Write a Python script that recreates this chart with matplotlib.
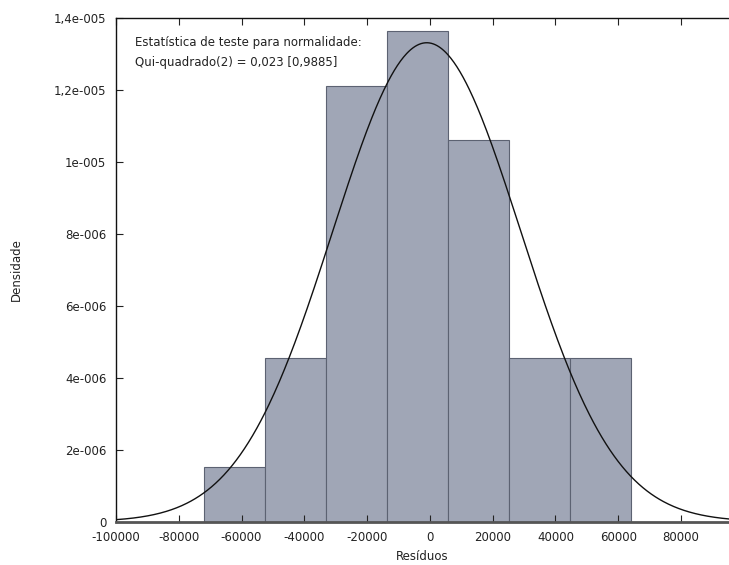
import numpy as np
import matplotlib
matplotlib.use("Agg")
import matplotlib.pyplot as plt

# histogram of residuals (density scale)
bin_start = -71965
bin_width = 19420
densities = [1.53e-6, 4.54e-6, 12.12e-6, 13.65e-6, 10.61e-6, 4.54e-6, 4.54e-6]

# fitted normal curve
mean_res = -1000
sd_res = 29950

x_ticks = [-100000, -80000, -60000, -40000, -20000, 0, 20000, 40000, 60000, 80000]
y_ticks = [0, 2e-6, 4e-6, 6e-6, 8e-6, 1e-5, 1.2e-5, 1.4e-5]
y_tick_labels = ['0', '2e-006', '4e-006', '6e-006', '8e-006', '1e-005', '1,2e-005', '1,4e-005']

stat_lines = ["Estatística de teste para normalidade:",
              "Qui-quadrado(2) = 0,023 [0,9885]"]

plt.rcParams['font.family'] = ['DejaVu Sans']
txt_color = '#222222'

fig = plt.figure(figsize=(7.29, 5.65), dpi=100)
ax = fig.add_axes([116 / 729, 1 - 521.7 / 565, 1 - 116 / 729, (521.7 - 18.3) / 565])

lefts = bin_start + bin_width * np.arange(len(densities))
ax.bar(lefts, densities, width=bin_width, align='edge',
       color='#a0a6b6', edgecolor='#5c6272', linewidth=0.8)

xs = np.linspace(-100000, 96000, 600)
pdf = np.exp(-0.5 * ((xs - mean_res) / sd_res) ** 2) / (sd_res * np.sqrt(2 * np.pi))
ax.plot(xs, pdf, color='#111111', linewidth=1.0)

ax.set_xlim(-100000, 95300)
ax.set_ylim(0, 1.4e-5)
ax.set_xticks(x_ticks)
ax.set_xticklabels([str(t) for t in x_ticks])
ax.set_yticks(y_ticks)
ax.set_yticklabels(y_tick_labels)
ax.tick_params(direction='in', length=5, width=0.8, colors='#222222',
               labelsize=8.5, labelcolor=txt_color, top=True, right=False, pad=7)

ax.spines['right'].set_visible(False)
for side in ['left', 'top']:
    ax.spines[side].set_color('#111111')
    ax.spines[side].set_linewidth(1.0)
ax.spines['bottom'].set_color('#555555')
ax.spines['bottom'].set_linewidth(2.0)

ax.set_xlabel('Resíduos', fontsize=8.5, color=txt_color, labelpad=4)
ax.set_ylabel('Densidade', fontsize=8.5, color=txt_color, labelpad=22)

ax.text(0.031, 0.965, stat_lines[0], transform=ax.transAxes, fontsize=8.5,
        color=txt_color, va='top', ha='left')
ax.text(0.031, 0.925, stat_lines[1], transform=ax.transAxes, fontsize=8.5,
        color=txt_color, va='top', ha='left')

fig.savefig('out.png', dpi=100)
